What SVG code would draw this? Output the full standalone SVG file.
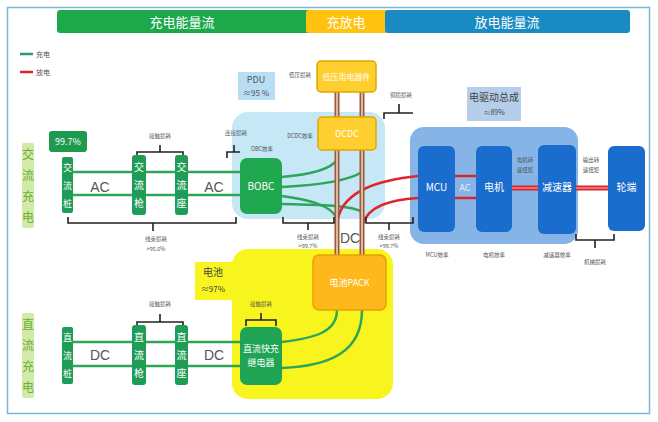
<svg xmlns="http://www.w3.org/2000/svg" width="658" height="422" viewBox="0 0 658 422">
<defs>
<style>
text{font-family:"Noto Sans CJK SC","Noto Sans",sans-serif;}
.hdr{font-size:13px;fill:#fff;text-anchor:middle;}
.wt{fill:#fff;text-anchor:middle;}
.sm{font-size:5.5px;fill:#555;text-anchor:middle;}
.mid{font-size:8px;fill:#444;text-anchor:middle;}
.cat{font-size:12px;fill:#6aaf3a;text-anchor:middle;}
.gbox{fill:#1f9d57;}
.gl{stroke:#2ea65a;stroke-width:2.5;fill:none;}
.rl{stroke:#e0262c;stroke-width:2.5;fill:none;}
.br{stroke:#222;stroke-width:1.6;fill:none;}
.bl{fill:#1a6dcc;}
.lbl{font-size:14px;fill:#555;text-anchor:middle;font-family:"Liberation Sans",sans-serif;}
</style>
</defs>
<rect x="0" y="0" width="658" height="422" fill="#fff"/>
<rect x="7.5" y="7.5" width="642" height="406" fill="none" stroke="#7db7d6" stroke-width="1.5"/>

<g id="headers">
<rect x="57" y="10" width="255" height="23" rx="3" fill="#1ea84c"/>
<rect x="306" y="10" width="82" height="23" rx="3" fill="#ffc20e"/>
<rect x="385" y="10" width="245" height="23" rx="3" fill="#1a8bc2"/>
<text class="hdr" x="182" y="27">充电能量流</text>
<text class="hdr" x="346" y="27">充放电</text>
<text class="hdr" x="507" y="27">放电能量流</text>
</g>

<g id="legend">
<line x1="20" y1="54" x2="33" y2="54" stroke="#2a9c6a" stroke-width="2.5"/>
<text x="36" y="57" font-size="7" fill="#555">充电</text>
<line x1="20" y1="72" x2="33" y2="72" stroke="#d9262b" stroke-width="2.5"/>
<text x="36" y="75" font-size="7" fill="#555">放电</text>
</g>

<g id="regions">
<rect x="232" y="112" width="153" height="107" rx="16" fill="#c6e7f6"/>
<rect x="238" y="72" width="37" height="28" fill="#b8def3"/>
<text x="256" y="83" font-size="9" fill="#555" text-anchor="middle">PDU</text>
<text x="256" y="96" font-size="8" fill="#555" text-anchor="middle">≈95 %</text>
<rect x="232" y="249" width="161" height="150" rx="16" fill="#f8f41e"/>
<rect x="195" y="262" width="45" height="38" fill="#f8f41e"/>
<text x="213" y="276" font-size="10" fill="#444" text-anchor="middle">电池</text>
<text x="213" y="292" font-size="8" fill="#444" text-anchor="middle">≈97%</text>
<rect x="410" y="127" width="168" height="117" rx="14" fill="#86b4e6"/>
<rect x="467" y="87" width="54" height="34" fill="#b5cfea"/>
<text x="494" y="101" font-size="10" fill="#444" text-anchor="middle">电驱动总成</text>
<text x="494" y="115" font-size="7" fill="#444" text-anchor="middle">≈89%</text>
</g>

<g id="connectors">
<line class="gl" x1="65" y1="172" x2="242" y2="172"/>
<line class="gl" x1="65" y1="195" x2="242" y2="195"/>
<line class="gl" x1="65" y1="342" x2="242" y2="342"/>
<line class="gl" x1="65" y1="366" x2="242" y2="366"/>
<path class="gl" d="M282,177 C305,175 330,170 337,160"/>
<path class="gl" d="M282,187 C320,185 350,180 362,172"/>
<path class="gl" d="M282,196 C310,200 330,205 337,218"/>
<path class="gl" d="M282,204 C320,205 350,205 362,212"/>
<path class="gl" d="M282,342 C315,338 337,332 337,310"/>
<path class="gl" d="M282,368 C330,366 362,352 362,310"/>
<path class="rl" d="M418,176 C380,180 345,190 338,218"/>
<path class="rl" d="M418,198 C390,200 368,206 363,224"/>
<g stroke="#9c5a3c" stroke-width="5">
<line x1="337" y1="92" x2="337" y2="256"/>
<line x1="362" y1="92" x2="362" y2="256"/>
</g>
<g stroke="#ecd0bd" stroke-width="1.6">
<line x1="337" y1="92" x2="337" y2="256"/>
<line x1="362" y1="92" x2="362" y2="256"/>
</g>
<g stroke="#d9262b" stroke-width="2.5">
<line x1="455" y1="176" x2="476" y2="176"/>
<line x1="455" y1="198" x2="476" y2="198"/>
</g>
<line x1="512" y1="188" x2="538" y2="188" stroke="#d9262b" stroke-width="5"/>
<line x1="576" y1="188" x2="608" y2="188" stroke="#d9262b" stroke-width="5"/>
<g stroke="#f3a0a3" stroke-width="1.2">
<line x1="512" y1="188" x2="538" y2="188"/>
<line x1="576" y1="188" x2="608" y2="188"/>
</g>
<text x="465" y="191" font-size="9" fill="#e8f0fb" text-anchor="middle" font-family="Liberation Sans,sans-serif">AC</text>
</g>

<g id="brackets">
<path class="br" d="M137,158 V152 H183 V158 M160,152 V145"/>
<text class="sm" x="160" y="138">接触损耗</text>
<path class="br" d="M227,158 V152 H240 M234,152 V145"/>
<text class="sm" x="236" y="135">连接损耗</text>
<path class="br" d="M68,217 V223 H236 V217 M153,223 V231"/>
<text class="sm" x="156" y="241">线束损耗</text>
<text class="sm" x="156" y="251">&gt;95.6%</text>
<path class="br" d="M283,217 V223 H334 V217 M308,223 V230"/>
<text class="sm" x="308" y="239">线束损耗</text>
<text class="sm" x="308" y="248">&gt;99.7%</text>
<path class="br" d="M366,217 V223 H413 V217 M389,223 V230"/>
<text class="sm" x="389" y="239">线束损耗</text>
<text class="sm" x="389" y="248">&gt;99.7%</text>
<path class="br" d="M384,119 V113 H413 M399,113 V104"/>
<text class="sm" x="401" y="97">铜损损耗</text>
<text class="sm" x="300" y="77">低压损耗</text>
<text class="sm" x="300" y="138">DCDC效率</text>
<text class="sm" x="262" y="151">OBC效率</text>
<path class="br" d="M137,328 V322 H183 V328 M160,322 V314"/>
<text class="sm" x="160" y="306">接触损耗</text>
<path class="br" d="M246,326 V320 H276 V326 M261,320 V313"/>
<text class="sm" x="261" y="306">接触损耗</text>
<path class="br" d="M576,234 V240 H614 V234 M595,240 V248"/>
<text class="sm" x="595" y="264">机械损耗</text>
<text class="sm" x="437" y="257" font-size="6">MCU效率</text>
<text class="sm" x="494" y="257" font-size="6">电机效率</text>
<text class="sm" x="557" y="257" font-size="6">减速器效率</text>
<text class="sm" x="525" y="162" fill="#333">电机转</text>
<text class="sm" x="525" y="172" fill="#333">速扭矩</text>
<text class="sm" x="591" y="162" fill="#333">输出转</text>
<text class="sm" x="591" y="172" fill="#333">速扭矩</text>
<text class="lbl" x="100" y="192">AC</text>
<text class="lbl" x="214" y="192">AC</text>
<text class="lbl" x="100" y="360">DC</text>
<text class="lbl" x="214" y="360">DC</text>
<text class="lbl" x="350" y="243">DC</text>
</g>

<g id="cat-ac">
<rect x="22" y="143" width="12" height="85" rx="2" fill="#d2eaa8"/>
<text class="cat" x="28" y="159">交</text>
<text class="cat" x="28" y="180">流</text>
<text class="cat" x="28" y="201">充</text>
<text class="cat" x="28" y="222">电</text>
</g>
<g id="cat-dc">
<rect x="22" y="313" width="12" height="85" rx="2" fill="#d2eaa8"/>
<text class="cat" x="28" y="329">直</text>
<text class="cat" x="28" y="350">流</text>
<text class="cat" x="28" y="371">充</text>
<text class="cat" x="28" y="392">电</text>
</g>

<g id="eff-997">
<rect x="49" y="131" width="38" height="21" rx="3" fill="#1e9a4e"/>
<text x="68" y="145" font-size="9" class="wt" font-family="Liberation Sans,sans-serif">99.7%</text>
</g>

<g id="ac-pile"><rect class="gbox" x="62" y="157" width="11" height="56" rx="2"/>
<text class="wt" x="67.5" y="171" font-size="9">交</text><text class="wt" x="67.5" y="189" font-size="9">流</text><text class="wt" x="67.5" y="207" font-size="9">桩</text></g>
<g id="ac-gun"><rect class="gbox" x="132" y="155" width="14" height="60" rx="3"/>
<text class="wt" x="139" y="171" font-size="10">交</text><text class="wt" x="139" y="189" font-size="10">流</text><text class="wt" x="139" y="207" font-size="10">枪</text></g>
<g id="ac-socket"><rect class="gbox" x="175" y="155" width="13" height="60" rx="3"/>
<text class="wt" x="181.5" y="171" font-size="10">交</text><text class="wt" x="181.5" y="189" font-size="10">流</text><text class="wt" x="181.5" y="207" font-size="10">座</text></g>

<g id="dc-pile"><rect class="gbox" x="62" y="327" width="11" height="57" rx="2"/>
<text class="wt" x="67.5" y="341" font-size="9">直</text><text class="wt" x="67.5" y="359" font-size="9">流</text><text class="wt" x="67.5" y="377" font-size="9">桩</text></g>
<g id="dc-gun"><rect class="gbox" x="132" y="325" width="14" height="60" rx="3"/>
<text class="wt" x="139" y="341" font-size="10">直</text><text class="wt" x="139" y="359" font-size="10">流</text><text class="wt" x="139" y="377" font-size="10">枪</text></g>
<g id="dc-socket"><rect class="gbox" x="175" y="325" width="13" height="60" rx="3"/>
<text class="wt" x="181.5" y="341" font-size="10">直</text><text class="wt" x="181.5" y="359" font-size="10">流</text><text class="wt" x="181.5" y="377" font-size="10">座</text></g>

<g id="bobc">
<rect x="240" y="158" width="42" height="56" rx="7" fill="#1fa84f"/>
<text class="wt" x="261" y="190" font-size="10" font-family="Liberation Sans,sans-serif">BOBC</text>
</g>
<g id="dc-relay">
<rect x="240" y="327" width="42" height="58" rx="7" fill="#1fa455"/>
<text class="wt" x="261" y="352" font-size="9">直流快充</text>
<text class="wt" x="261" y="366" font-size="9">继电器</text>
</g>
<g id="lv-load">
<rect x="317" y="61" width="59" height="31" rx="4" fill="#ffcf30" stroke="#e0a800" stroke-width="1.5"/>
<text class="wt" x="346.5" y="80" font-size="8">低压用电器件</text>
</g>
<g id="dcdc">
<rect x="318" y="117" width="58" height="33" rx="4" fill="#ffcf30" stroke="#e0a800" stroke-width="1.5"/>
<text class="wt" x="347" y="137" font-size="9" font-family="Liberation Sans,sans-serif">DCDC</text>
</g>
<g id="pack">
<rect x="313" y="255" width="73" height="55" rx="6" fill="#ffb81c" stroke="#e8a000" stroke-width="1.5"/>
<text class="wt" x="349.5" y="286" font-size="9">电池PACK</text>
</g>
<g id="mcu"><rect class="bl" x="418" y="146" width="37" height="86" rx="6"/><text class="wt" x="436.5" y="191" font-size="10" font-family="Liberation Sans,sans-serif">MCU</text></g>
<g id="motor"><rect class="bl" x="476" y="146" width="36" height="86" rx="6"/><text class="wt" x="494" y="191" font-size="10">电机</text></g>
<g id="reducer"><rect class="bl" x="538" y="145" width="38" height="89" rx="6"/><text class="wt" x="557" y="191" font-size="10">减速器</text></g>
<g id="wheel"><rect class="bl" x="608" y="146" width="37" height="85" rx="6"/><text class="wt" x="626.5" y="191" font-size="10">轮端</text></g>
</svg>
